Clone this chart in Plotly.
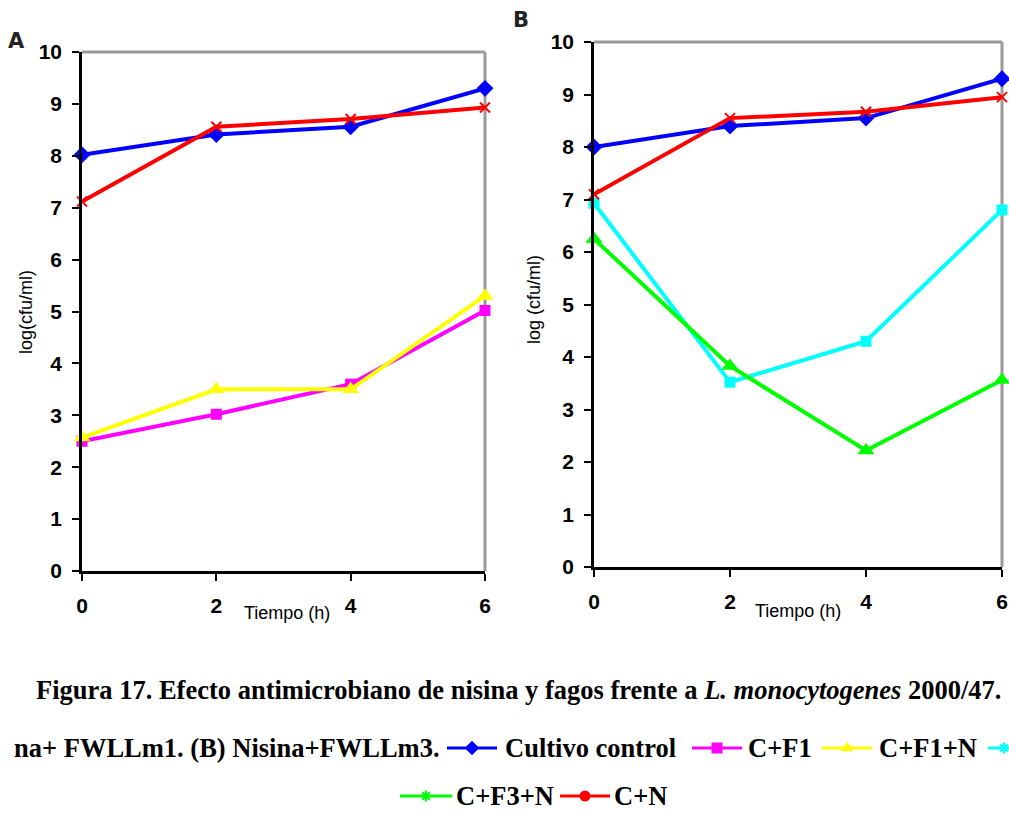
import plotly.graph_objects as go

# ---------------- data ----------------
tiempo = [0, 2, 4, 6]

# Panel A (Nisina + FWLLm1)
a_control = [8.02, 8.41, 8.56, 9.30]
a_cf1 = [2.50, 3.02, 3.60, 5.02]
a_cf1n = [2.57, 3.50, 3.50, 5.30]
a_cn = [7.12, 8.56, 8.71, 8.93]

# Panel B (Nisina + FWLLm3)
b_control = [8.00, 8.40, 8.55, 9.30]
b_cf3 = [6.93, 3.52, 4.30, 6.80]
b_cf3n = [6.25, 3.83, 2.22, 3.56]
b_cn = [7.10, 8.55, 8.67, 8.95]

y_ticks = list(range(0, 11))
x_ticks = [0, 2, 4, 6]

BLUE = "#0000FF"
MAGENTA = "#FF00FF"
YELLOW = "#FFFF00"
CYAN = "#00FFFF"
GREEN = "#00FF00"
RED = "#FF0000"

W, H = 1009, 814

fig = go.Figure()

def add_series(x, y, color, symbol, xa, ya, msize=10, mline=None):
    marker = dict(symbol=symbol, size=msize, color=color)
    if mline:
        marker["line"] = dict(color=color, width=mline)
    fig.add_trace(go.Scatter(x=x, y=y, mode="lines+markers", xaxis=xa, yaxis=ya,
                             line=dict(color=color, width=4), marker=marker,
                             showlegend=False, cliponaxis=False))

# Panel A
add_series(tiempo, a_cf1, MAGENTA, "square", "x", "y", msize=11)
add_series(tiempo, a_cf1n, YELLOW, "triangle-up", "x", "y", msize=15)
add_series(tiempo, a_control, BLUE, "diamond", "x", "y", msize=13)
add_series(tiempo, a_cn, RED, "x-thin-open", "x", "y", msize=10, mline=2)

# Panel B
add_series(tiempo, b_cf3, CYAN, "square", "x2", "y2", msize=11)
add_series(tiempo, b_cf3n, GREEN, "triangle-up", "x2", "y2", msize=15)
add_series(tiempo, b_control, BLUE, "diamond", "x2", "y2", msize=13)
add_series(tiempo, b_cn, RED, "x-thin-open", "x2", "y2", msize=10, mline=2)

def px_x(p):
    return p / W

def px_y(p):
    return 1 - p / H

tickfont = dict(family="Liberation Sans", size=21, color="black", weight="bold")
common_x = dict(range=[0, 6], tickvals=x_ticks, ticks="outside", ticklen=7, tickwidth=2,
                tickcolor="black", showline=True, linecolor="black", linewidth=2.5,
                showgrid=False, zeroline=False, tickfont=tickfont, ticklabelstandoff=7,
                automargin=False)
common_y = dict(range=[0, 10], tickvals=y_ticks, ticks="outside", ticklen=7, tickwidth=2,
                tickcolor="black", showline=True, linecolor="black", linewidth=2.5,
                showgrid=False, zeroline=False, tickfont=tickfont, ticklabelstandoff=6,
                automargin=False)

fig.update_layout(
    template="none",
    xaxis=dict(domain=[px_x(82), px_x(485)], anchor="y", **common_x),
    yaxis=dict(domain=[px_y(571), px_y(52)], anchor="x", **common_y),
    xaxis2=dict(domain=[px_x(594), px_x(1002)], anchor="y2", **common_x),
    yaxis2=dict(domain=[px_y(567), px_y(42)], anchor="x2", **common_y),
    xaxis3=dict(domain=[0, 1], range=[0, W], visible=False, anchor="y3", fixedrange=True,
                automargin=False),
    yaxis3=dict(domain=[0, 1], range=[H, 0], visible=False, anchor="x3", fixedrange=True,
                automargin=False),
    width=W, height=H,
    margin=dict(l=0, r=0, t=0, b=0, pad=0, autoexpand=False),
    paper_bgcolor="white", plot_bgcolor="rgba(0,0,0,0)",
    showlegend=False,
)

# grey top and right borders of each plot area
for xr, yr in [("x domain", "y domain"), ("x2 domain", "y2 domain")]:
    fig.add_shape(type="line", xref=xr, yref=yr, x0=0, x1=1, y0=1, y1=1,
                  line=dict(color="#999999", width=3), layer="below")
    fig.add_shape(type="line", xref=xr, yref=yr, x0=1, x1=1, y0=0, y1=1,
                  line=dict(color="#999999", width=3), layer="below")

ann = []
# panel letters
letterfont = dict(family="DejaVu Sans", size=21, color="#222", weight="bold")
ann.append(dict(text="A", x=px_x(16), y=px_y(41), font=letterfont))
ann.append(dict(text="B", x=px_x(521), y=px_y(20), font=letterfont))
# axis titles
axfont = dict(family="Liberation Sans", size=18, color="black")
ann.append(dict(text="log(cfu/ml)", x=px_x(26), y=px_y(312), textangle=-90, font=axfont))
ann.append(dict(text="log (cfu/ml)", x=px_x(534), y=px_y(300), textangle=-90, font=axfont))
ann.append(dict(text="Tiempo (h)", x=px_x(287), y=px_y(613), font=axfont))
ann.append(dict(text="Tiempo (h)", x=px_x(798), y=px_y(611), font=axfont))

capfont = dict(family="Liberation Serif", size=26.5, color="black")
ann.append(dict(text="<b>Figura 17. Efecto antimicrobiano de nisina y fagos frente a <i>L. monocytogenes</i> 2000/47.</b>",
                x=px_x(519), y=px_y(690), font=capfont))
ann.append(dict(text="<b>na+ FWLLm1. (B) Nisina+FWLLm3.</b>", x=px_x(442), y=px_y(748),
                xanchor="right", font=capfont))

# legend entries: (label, color, symbol, line_x0, line_x1, text_x, row_y)
legend_items = [
    ("Cultivo control", BLUE, "diamond", 447, 497, 503, 748),
    ("C+F1", MAGENTA, "square", 692, 742, 746, 748),
    ("C+F1+N", YELLOW, "triangle-up", 822, 872, 877, 748),
    ("", CYAN, "asterisk-open", 988, 1040, 0, 748),
    ("C+F3+N", GREEN, "asterisk-open", 400, 452, 454, 796),
    ("C+N", RED, "circle", 560, 610, 612, 796),
]
for label, color, sym, lx0, lx1, tx, ry in legend_items:
    fig.add_trace(go.Scatter(x=[lx0, lx1], y=[ry, ry], mode="lines", xaxis="x3", yaxis="y3",
                             line=dict(color=color, width=3), showlegend=False,
                             hoverinfo="skip", cliponaxis=False))
    fig.add_trace(go.Scatter(x=[(lx0 + lx1) / 2 if lx1 <= W else 1004], y=[ry],
                             mode="markers", xaxis="x3", yaxis="y3",
                             marker=dict(symbol=sym, size=9, color=color,
                                         line=dict(color=color, width=2)),
                             showlegend=False, hoverinfo="skip", cliponaxis=False))
    if label:
        ann.append(dict(text="<b>" + label + "</b>", x=px_x(tx), y=px_y(ry), xanchor="left", font=capfont))

for a in ann:
    a.setdefault("xref", "paper")
    a.setdefault("yref", "paper")
    a.setdefault("showarrow", False)
    a.setdefault("xanchor", "center")
    a.setdefault("yanchor", "middle")
    fig.add_annotation(**a)

fig.write_html("out.html", config={"displayModeBar": False},
               post_script="document.body.style.margin='0px';")
